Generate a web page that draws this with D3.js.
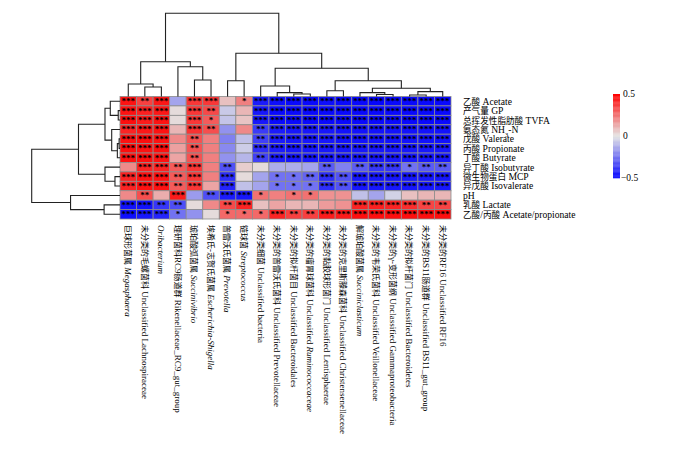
<!DOCTYPE html>
<meta charset="utf-8">
<title>Correlation heatmap</title>
<style>
  body { margin: 0; background: #fff; }
  text { font-family: "Liberation Serif", "Noto Sans CJK SC", serif; fill: #000; }
</style>
<body>
<script src="https://d3js.org/d3.v7.min.js"></script>
<script>
const width = 700, height = 472;

// row labels (fermentation parameters), top to bottom
const rowNames = [
  "乙酸 Acetate", "产气量 GP", "总挥发性脂肪酸 TVFA", "氨态氮 NH<sub>3</sub>-N",
  "戊酸 Valerate", "丙酸 Propionate", "丁酸 Butyrate", "异丁酸 Isobutyrate",
  "微生物蛋白 MCP", "异戊酸 Isovalerate", "pH", "乳酸 Lactate", "乙酸/丙酸 Acetate/propionate"
];

// column labels (bacteria), left to right
const colNames = [
  "巨球形菌属 <i>Megasphaera</i>",
  "未分类的毛螺菌科 Unclassified Lachnospiraceae",
  "<i>Oribacterium</i>",
  "理研菌科RC9肠道群 Rikenellaceae_RC9_gut_group",
  "琥珀酸弧菌属 <i>Succinivibrio</i>",
  "埃希氏-志贺氏菌属 <i>Escherichia-Shigella</i>",
  "普雷沃氏菌属 <i>Prevotella</i>",
  "链球菌 <i>Streptococcus</i>",
  "未分类细菌 Unclassified bacteria",
  "未分类的普雷沃氏菌科 Unclassified Prevotellaceae",
  "未分类的拟杆菌目 Unclassified Bacteroidales",
  "未分类的瘤胃球菌科 Unclassified <i>Ruminococcaceae</i>",
  "未分类的黏胶球形菌门 Unclassified Lentisphaerae",
  "未分类的克里斯滕森菌科 Unclassified Christensenellaceae",
  "解琥珀酸菌属 <i>Succiniclasticum</i>",
  "未分类的韦荣氏菌科 Unclassified Veillonellaceae",
  "未分类的γ-变形菌纲 Unclassified Gammaproteobacteria",
  "未分类的拟杆菌门 Unclassified Bacteroidetes",
  "未分类的BS11肠道群 Unclassified BS11_gut_group",
  "未分类的RF16 Unclassified RF16"
];

// correlation coefficients, one array per row
const rAcetate = [0.46, 0.36, 0.45, -0.14, 0.38, 0.38, 0.08, 0.22, -0.44, -0.47, -0.48, -0.48, -0.47, -0.48, -0.48, -0.49, -0.48, -0.48, -0.48, -0.48];
const rGP      = [0.46, 0.43, 0.45, 0.02, 0.38, 0.34, -0.06, 0.10, -0.45, -0.48, -0.48, -0.48, -0.48, -0.48, -0.48, -0.48, -0.48, -0.48, -0.48, -0.48];
const rTVFA    = [0.47, 0.44, 0.46, 0.02, 0.38, 0.30, -0.07, 0.07, -0.45, -0.48, -0.48, -0.48, -0.48, -0.48, -0.48, -0.48, -0.48, -0.48, -0.48, -0.48];
const rNH3N    = [0.42, 0.45, 0.46, 0.10, 0.39, 0.33, -0.18, 0.20, -0.37, -0.44, -0.45, -0.45, -0.45, -0.46, -0.46, -0.46, -0.46, -0.46, -0.46, -0.46];
const rValer   = [0.46, 0.47, 0.46, 0.20, 0.32, 0.22, -0.22, -0.08, -0.36, -0.44, -0.45, -0.45, -0.45, -0.46, -0.46, -0.46, -0.46, -0.46, -0.46, -0.46];
const rPropio  = [0.47, 0.46, 0.47, 0.15, 0.32, 0.22, -0.20, -0.05, -0.40, -0.44, -0.45, -0.45, -0.45, -0.45, -0.45, -0.45, -0.45, -0.45, -0.45, -0.45];
const rButyr   = [0.46, 0.47, 0.46, 0.14, 0.32, 0.22, -0.18, -0.10, -0.36, -0.44, -0.45, -0.45, -0.45, -0.45, -0.45, -0.45, -0.45, -0.45, -0.45, -0.45];
const rIsobut  = [0.20, 0.42, 0.42, 0.30, 0.38, 0.22, -0.32, 0.05, 0.02, -0.12, -0.12, -0.14, -0.30, -0.22, -0.30, -0.38, -0.38, -0.25, -0.30, -0.30];
const rMCP     = [0.42, 0.46, 0.46, 0.30, 0.38, 0.22, -0.40, 0.02, -0.14, -0.25, -0.25, -0.28, -0.40, -0.32, -0.45, -0.45, -0.45, -0.45, -0.45, -0.45];
const rIsoval  = [0.42, 0.46, 0.46, 0.30, 0.38, 0.14, -0.42, -0.08, -0.14, -0.25, -0.25, -0.25, -0.40, -0.32, -0.45, -0.45, -0.45, -0.45, -0.45, -0.45];
const rPH      = [0.20, 0.33, 0.12, 0.44, -0.16, -0.33, -0.44, -0.45, 0.25, 0.22, 0.25, 0.25, 0.18, 0.18, -0.08, -0.14, -0.04, 0.08, 0.10, 0.10];
const rLactate = [-0.46, -0.46, -0.38, -0.33, 0.02, 0.20, 0.34, 0.42, 0.08, 0.14, 0.10, 0.10, 0.16, 0.18, 0.42, 0.43, 0.42, 0.40, 0.35, 0.35];
const rAP      = [-0.47, -0.45, -0.42, -0.25, -0.18, 0.02, 0.27, 0.27, 0.27, 0.42, 0.36, 0.36, 0.44, 0.44, 0.47, 0.47, 0.47, 0.47, 0.47, 0.47];

// significance marks (number of asterisks), one array per row
const sAcetate = [3, 2, 3, 0, 3, 3, 0, 1, 3, 3, 3, 3, 3, 3, 3, 3, 3, 3, 3, 3];
const sGP      = [3, 3, 3, 0, 3, 2, 0, 0, 3, 3, 3, 3, 3, 3, 3, 3, 3, 3, 3, 3];
const sTVFA    = [3, 3, 3, 0, 3, 1, 0, 0, 3, 3, 3, 3, 3, 3, 3, 3, 3, 3, 3, 3];
const sNH3N    = [3, 3, 3, 0, 3, 2, 0, 0, 2, 3, 3, 3, 3, 3, 3, 3, 3, 3, 3, 3];
const sValer   = [3, 3, 3, 0, 2, 0, 0, 0, 2, 3, 3, 3, 3, 3, 3, 3, 3, 3, 3, 3];
const sPropio  = [3, 3, 3, 0, 2, 0, 0, 0, 3, 3, 3, 3, 3, 3, 3, 3, 3, 3, 3, 3];
const sButyr   = [3, 3, 3, 0, 2, 0, 0, 0, 2, 3, 3, 3, 3, 3, 3, 3, 3, 3, 3, 3];
const sIsobut  = [0, 3, 3, 2, 3, 0, 2, 0, 0, 0, 0, 0, 2, 0, 2, 3, 3, 1, 2, 2];
const sMCP     = [3, 3, 3, 2, 3, 0, 3, 0, 0, 1, 1, 2, 3, 2, 3, 3, 3, 3, 3, 3];
const sIsoval  = [3, 3, 3, 2, 3, 0, 3, 0, 0, 1, 1, 1, 3, 2, 3, 3, 3, 3, 3, 3];
const sPH      = [0, 2, 0, 3, 0, 2, 3, 3, 1, 0, 1, 1, 0, 0, 0, 0, 0, 0, 0, 0];
const sLactate = [3, 3, 2, 2, 0, 0, 2, 3, 0, 0, 0, 0, 0, 0, 3, 3, 3, 3, 2, 2];
const sAP      = [3, 3, 3, 1, 0, 0, 1, 1, 1, 3, 2, 2, 3, 3, 3, 3, 3, 3, 3, 3];

// dendrograms: [height, left, right], leaves are indices
const colTree = [1.0,
  [0.418, [0.15, 0, [0.114, 1, 2]], [0.358, 3, [0.198, 4, 5]]],
  [0.519, [0.19, 6, 7],
    [0.339, [0.126, 8, [0.046, 9, [0.03, 10, 11]]],
      [0.19, [0.07, 12, 13],
        [0.099, [0.046, 14, [0.024, 15, 16]], [0.058, [0.018, 17, 18], 19]]]]]];
const rowTree = [1.0,
  [0.47, [0.17, [0.11, 0, [0.02, 1, 2]], [0.094, 3, [0.03, [0.01, 4, 5], 6]]],
         [0.17, 7, [0.057, 8, 9]]],
  [0.56, 10, [0.18, 11, 12]]];

const legendTicks = [0.5, 0, -0.5];

const rValues = [rAcetate, rGP, rTVFA, rNH3N, rValer, rPropio, rButyr, rIsobut, rMCP, rIsoval, rPH, rLactate, rAP];
const sValues = [sAcetate, sGP, sTVFA, sNH3N, sValer, sPropio, sButyr, sIsobut, sMCP, sIsoval, sPH, sLactate, sAP];

const svg = d3.select("body").append("svg")
  .attr("width", width).attr("height", height);

const x = d3.scaleBand().domain(d3.range(colNames.length)).range([120, 451]);
const y = d3.scaleBand().domain(d3.range(rowNames.length)).range([96.5, 219]);
const color = d3.scaleLinear().domain([-0.5, 0, 0.5]).range(["#0000ff", "#e4e4e4", "#ff0000"]).clamp(true);

// cells
const cells = [];
rValues.forEach((row, i) => row.forEach((v, j) => cells.push({i, j, v, s: sValues[i][j]})));

svg.append("g").selectAll("rect").data(cells).enter().append("rect")
  .attr("x", d => x(d.j)).attr("y", d => y(d.i))
  .attr("width", x.bandwidth()).attr("height", y.bandwidth())
  .attr("fill", d => color(d.v))
  .attr("stroke", "#8c8c8c").attr("stroke-width", 0.8);

svg.append("g").selectAll("text").data(cells.filter(d => d.s > 0)).enter().append("text")
  .attr("x", d => x(d.j) + x.bandwidth() / 2)
  .attr("y", d => y(d.i) + y.bandwidth() / 2 + 3)
  .attr("text-anchor", "middle")
  .style("font-size", "9px").style("font-weight", "bold")
  .text(d => "*".repeat(d.s));

// labels: italic / subscript parts, CJK runs a bit smaller than Latin
const cjk = /([\u3000-\u9fff\uff00-\uffef]+)/;
function richText(sel, str, size, cjkSize, subSize) {
  sel.style("font-size", size);
  str.split(/(<i>.*?<\/i>|<sub>.*?<\/sub>)/).filter(s => s.length).forEach(part => {
    if (part.startsWith("<i>")) sel.append("tspan").style("font-style", "italic").text(part.slice(3, -4));
    else if (part.startsWith("<sub>")) sel.append("tspan").attr("baseline-shift", "sub").style("font-size", subSize).text(part.slice(5, -6));
    else part.split(cjk).filter(s => s.length).forEach(run => {
      const t = sel.append("tspan").text(run);
      if (cjk.test(run)) t.style("font-size", cjkSize);
    });
  });
}

svg.append("g").selectAll("text").data(rowNames).enter().append("text")
  .attr("x", 463).attr("y", (d, i) => y(i) + y.bandwidth() / 2)
  .attr("dy", "0.36em")
  .each(function(d) { richText(d3.select(this), d, "9.6px", "8.6px", "6.5px"); });

svg.append("g").selectAll("text").data(colNames).enter().append("text")
  .attr("transform", (d, i) => `translate(${x(i) + x.bandwidth() / 2},225) rotate(90)`)
  .attr("dy", "0.35em")
  .each(function(d) { richText(d3.select(this), d, "9px", "8px", "6px"); });

// dendrograms
const colH = d3.scaleLinear().domain([0, 1]).range([96.5, 13.3]);
const rowH = d3.scaleLinear().domain([0, 1]).range([120, 31.7]);
const dend = svg.append("g").attr("fill", "none").attr("stroke", "#222").attr("stroke-width", 1.1);

function drawTree(node, band, hScale, vertical) {
  if (typeof node === "number") return {p: band(node) + band.bandwidth() / 2, h: 0};
  const a = drawTree(node[1], band, hScale, vertical);
  const b = drawTree(node[2], band, hScale, vertical);
  const h = hScale(node[0]);
  const pts = [[a.p, hScale(a.h)], [a.p, h], [b.p, h], [b.p, hScale(b.h)]];
  dend.append("path").attr("d", d3.line()(vertical ? pts : pts.map(q => [q[1], q[0]])));
  return {p: (a.p + b.p) / 2, h: node[0]};
}
drawTree(colTree, x, colH, true);
drawTree(rowTree, y, rowH, false);

// colour legend
const ly = d3.scaleLinear().domain([-0.5, 0.5]).range([178, 94]);
const steps = d3.range(-0.5, 0.5, 0.01);
svg.append("g").selectAll("rect").data(steps).enter().append("rect")
  .attr("x", 613).attr("width", 7)
  .attr("y", d => ly(d + 0.01)).attr("height", ly(0) - ly(0.01) + 0.3)
  .attr("fill", d => color(d + 0.005));

svg.append("g").selectAll("text").data(legendTicks).enter().append("text")
  .attr("x", d => d < 0 ? 621 : 623).attr("y", d => ly(d))
  .attr("dy", "0.35em")
  .style("font-size", "9.5px")
  .text(d => d < 0 ? "\u22120.5" : d);
</script>
</body>
